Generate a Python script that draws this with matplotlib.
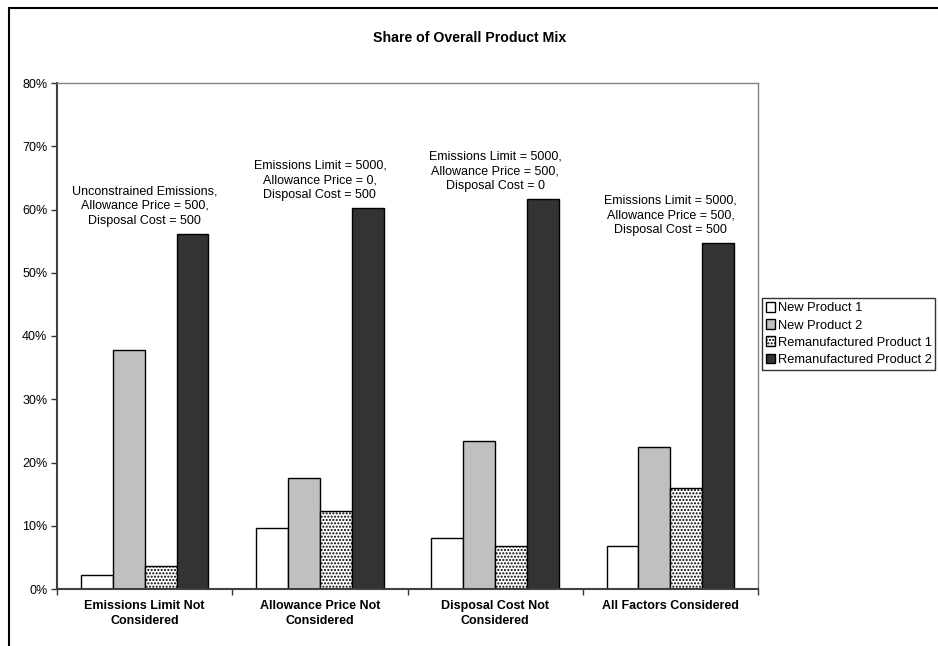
import matplotlib.pyplot as plt
import matplotlib.patches as mpatches
import numpy as np

plt.rcParams['font.family'] = ['Liberation Sans', 'DejaVu Sans']
plt.rcParams['hatch.linewidth'] = 1.0

# Data
categories = ['Emissions Limit Not\nConsidered', 'Allowance Price Not\nConsidered',
              'Disposal Cost Not\nConsidered', 'All Factors Considered']
series_names = ['New Product 1', 'New Product 2',
                'Remanufactured Product 1', 'Remanufactured Product 2']
new_product_1 = [2.2, 9.7, 8.1, 6.8]
new_product_2 = [37.8, 17.6, 23.4, 22.5]
reman_product_1 = [3.7, 12.4, 6.8, 15.9]
reman_product_2 = [56.2, 60.2, 61.7, 54.7]
scenario_notes = ['Unconstrained Emissions,\nAllowance Price = 500,\nDisposal Cost = 500',
                  'Emissions Limit = 5000,\nAllowance Price = 0,\nDisposal Cost = 500',
                  'Emissions Limit = 5000,\nAllowance Price = 500,\nDisposal Cost = 0',
                  'Emissions Limit = 5000,\nAllowance Price = 500,\nDisposal Cost = 500']
y_ticks = [0, 10, 20, 30, 40, 50, 60, 70, 80]

# Figure and axes
fig = plt.figure(figsize=(9.38, 6.46), dpi=100)
ax = fig.add_axes([57/938, 1 - 589/646, (758 - 57)/938, (589 - 83)/646])

# Outer chart frame (cropped at right and bottom)
frame = mpatches.Rectangle((9/938, -0.2), 1.2, 1.2 - 8/646, transform=fig.transFigure,
                           fill=False, edgecolor='black', linewidth=1.5, clip_on=False)
fig.patches.append(frame)

x = np.arange(len(categories))
width = 0.182
series = [new_product_1, new_product_2, reman_product_1, reman_product_2]
faces = ['white', '#C0C0C0', 'white', '#333333']
hatches = [None, None, '.....', None]
for i, (vals, name) in enumerate(zip(series, series_names)):
    ax.bar(x + (i - 1.5) * width, vals, width, color=faces[i], edgecolor='black',
           linewidth=1.0, hatch=hatches[i], label=name)

# Scenario notes above each group
for i, note in enumerate(scenario_notes):
    top = max(s[i] for s in series)
    ax.annotate(note, xy=(x[i], top), xytext=(0, 5), textcoords='offset points',
                ha='center', va='bottom', fontsize=9, linespacing=1.3)

# Axes styling
ax.set_xlim(-0.5, 3.5)
ax.set_ylim(0, 80)
ax.set_yticks(y_ticks)
ax.set_yticklabels([f'{t}%' for t in y_ticks], fontsize=9)
ax.set_xticks(x)
ax.set_xticklabels(categories, fontsize=9, fontweight='bold', linespacing=1.3)
ax.tick_params(axis='x', length=0, pad=8)
ax.set_xticks(np.arange(-0.5, 4, 1), minor=True)
ax.tick_params(axis='x', which='minor', length=4, width=1, color='#333333')
ax.tick_params(axis='y', length=4, width=1, color='#333333', pad=3)
for side in ['left', 'bottom']:
    ax.spines[side].set_color('#404040')
    ax.spines[side].set_linewidth(1.5)
for side in ['top', 'right']:
    ax.spines[side].set_color('#808080')
    ax.spines[side].set_linewidth(1.0)

fig.text(470/938, 1 - 38/646, 'Share of Overall Product Mix', ha='center', va='center',
         fontsize=10.2, fontweight='bold')

leg = ax.legend(loc='center left', bbox_to_anchor=(762/938, 1 - 334/646),
                bbox_transform=fig.transFigure, frameon=True, fancybox=False,
                edgecolor='black', fontsize=9.3, handlelength=0.7, handleheight=0.75,
                handletextpad=0.2, labelspacing=0.38, borderpad=0.3, borderaxespad=0)
leg.get_frame().set_linewidth(1.0)

fig.savefig('out.png', dpi=100)
